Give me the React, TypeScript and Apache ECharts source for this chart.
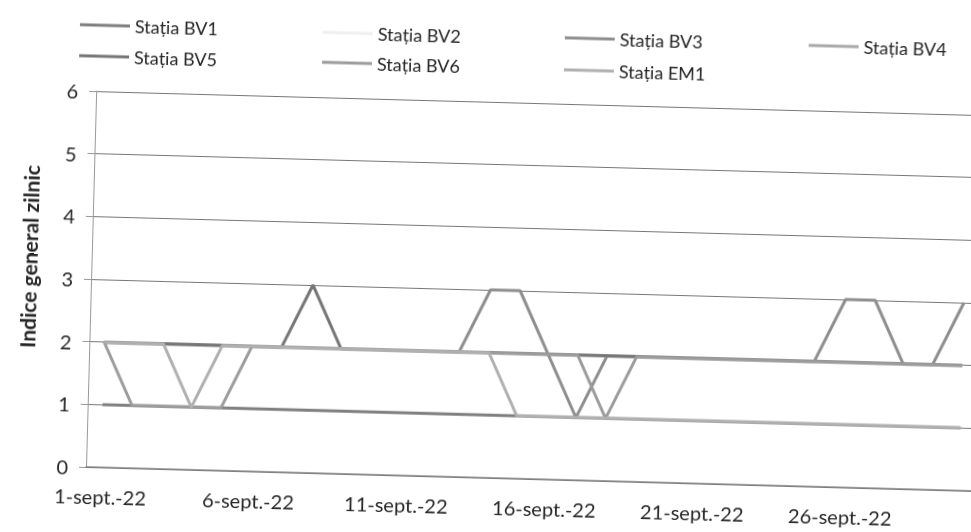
import React, { useEffect, useRef } from "react";
import * as echarts from "echarts";

const days: string[] = Array.from({ length: 30 }, (_, i) => `${i + 1}-sept.-22`);

const seriesNames = ["Stația BV1", "Stația BV2", "Stația BV3", "Stația BV4", "Stația BV5", "Stația BV6", "Stația EM1"];

const bv1 = [1,1,1,1,1,1,1,1,1,1,1,1,1,1,1,1,1,1,1,1,1,1,1,1,1,1,1,1,1,1];
const bv2 = [2,2,2,2,2,2,2,2,2,2,2,2,2,2,2,2,2,2,2,2,2,2,2,2,2,2,2,2,2,2];
const bv3 = [2,2,2,2,2,2,2,2,2,2,2,2,2,3,3,2,1,2,2,2,2,2,2,2,2,3,3,2,2,3];
const bv4 = [2,2,2,2,2,2,2,2,2,2,2,2,2,2,2,2,2,2,2,2,2,2,2,2,2,2,2,2,2,2];
const bv5 = [2,2,2,2,2,2,2,3,2,2,2,2,2,2,2,2,2,2,2,2,2,2,2,2,2,2,2,2,2,2];
const bv6 = [2,1,1,1,1,2,2,2,2,2,2,2,2,2,2,2,2,1,2,2,2,2,2,2,2,2,2,2,2,2];
const em1 = [2,2,2,1,2,2,2,2,2,2,2,2,2,2,1,1,1,1,1,1,1,1,1,1,1,1,1,1,1,1];

const seriesData = [bv1, bv2, bv3, bv4, bv5, bv6, em1];
const seriesColors = ["#7f7f7f", "#efefef", "#8e8e8e", "#a9a9a9", "#767676", "#9c9c9c", "#b0b0b0"];

const legendPos = [
  { left: 63, top: 11 },
  { left: 306, top: 12 },
  { left: 548, top: 11 },
  { left: 792, top: 12 },
  { left: 63, top: 42 },
  { left: 306, top: 42 },
  { left: 548, top: 43 },
];

export default function App() {
  const ref = useRef<HTMLDivElement>(null);
  useEffect(() => {
    if (!ref.current) return;
    const chart = echarts.init(ref.current, null, { renderer: "svg" });
    const font = "Lato";
    chart.setOption({
      animation: false,
      backgroundColor: "#ffffff",
      textStyle: { fontFamily: font },
      legend: seriesNames.map((n, i) => ({
        data: [n],
        left: legendPos[i].left,
        top: legendPos[i].top,
        icon: "rect",
        itemWidth: 50,
        itemHeight: 3,
        itemGap: 0,
        textStyle: { fontFamily: font, fontSize: 18, color: "#262626" },
        selectedMode: false,
      })),
      grid: { left: 86, top: 91, width: 888, height: 376 },
      xAxis: {
        type: "category",
        data: days,
        boundaryGap: true,
        axisLine: { lineStyle: { color: "#808080", width: 1.5 } },
        axisTick: { interval: 4, length: 5, lineStyle: { color: "#999" } },
        axisLabel: { interval: 4, margin: 19, fontSize: 20, color: "#262626", fontFamily: font },
        splitLine: { show: false },
      },
      yAxis: {
        type: "value",
        min: 0,
        max: 6,
        interval: 1,
        axisLine: { show: true, lineStyle: { color: "#999", width: 1 } },
        axisTick: { show: true, length: 7, lineStyle: { color: "#999" } },
        axisLabel: { margin: 18, fontSize: 20, color: "#262626", fontFamily: font },
        splitLine: { show: true, lineStyle: { color: "#777", width: 1 } },
      },
      graphic: [
        {
          type: "text",
          x: 23,
          y: 258,
          rotation: Math.PI / 2,
          style: {
            text: "Indice general zilnic",
            align: "center",
            verticalAlign: "middle",
            font: `bold 21px ${font}`,
            fill: "#262626",
          },
        },
      ],
      series: seriesNames.map((n, i) => ({
        name: n,
        type: "line",
        data: seriesData[i],
        showSymbol: false,
        symbol: "none",
        color: seriesColors[i],
        lineStyle: { width: 3, color: seriesColors[i] },
      })),
    });
    return () => chart.dispose();
  }, []);
  return (
    <div
      ref={ref}
      style={{
        position: "fixed",
        left: 0,
        top: 0,
        width: 980,
        height: 532,
        transform: "rotate(1.55deg)",
        transformOrigin: "86px 467px",
      }}
    />
  );
}
